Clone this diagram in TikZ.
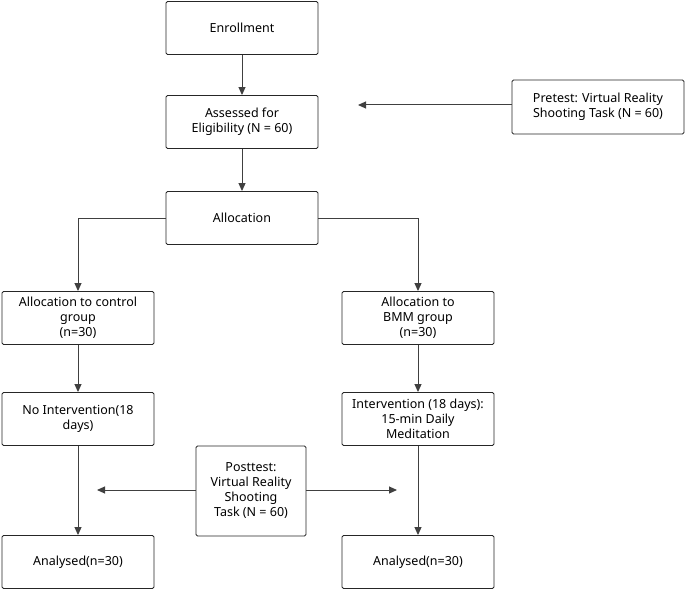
\documentclass[tikz,border=0pt]{standalone}
\usepackage{fontspec}
\setmainfont{Noto Sans}
\usetikzlibrary{arrows.meta}
\begin{document}
\begin{tikzpicture}[x=1pt,y=-1pt,
  box/.style={draw=black!85,line width=0.9pt,rounded corners=1.5pt,minimum width=152pt,minimum height=53pt,align=center,font=\fontsize{12.5}{15}\selectfont,inner sep=2pt},
  arr/.style={draw=black!75,line width=1pt,-{Triangle[length=8pt,width=7pt]}}]
\useasboundingbox (0,0) rectangle (685,591);
\node[box] (enr) at (242,28) {Enrollment};
\node[box] (ass) at (242,122) {Assessed for\\Eligibility (N = 60)};
\node[box,minimum width=172pt,minimum height=54pt] (pre) at (598,107) {Pretest: Virtual Reality\\Shooting Task (N = 60)};
\coordinate (pe) at (358,105);
\node[box] (all) at (242,218) {Allocation};
\node[box] (ctl) at (78,318) {Allocation to control\\group\\(n=30)};
\node[box] (bmm) at (418,318) {Allocation to\\BMM group\\(n=30)};
\node[box] (noi) at (78,419) {No Intervention(18\\days)};
\node[box] (int) at (418,419) {Intervention (18 days):\\15-min Daily\\Meditation};
\node[box,minimum width=110pt,minimum height=90pt] (post) at (251,491) {Posttest:\\Virtual Reality\\Shooting\\Task (N = 60)};
\node[box] (an1) at (78,562) {Analysed(n=30)};
\node[box] (an2) at (418,562) {Analysed(n=30)};
\coordinate (pl) at (97,490);
\coordinate (pr) at (397,490);
\draw[arr] (enr) -- (ass);
\draw[arr] (ass) -- (all);
\draw[arr] (pre.west |- pe) -- (pe);
\draw[arr] (all.west) -| (ctl.north);
\draw[arr] (all.east) -| (bmm.north);
\draw[arr] (ctl) -- (noi);
\draw[arr] (bmm) -- (int);
\draw[arr] (noi) -- (an1);
\draw[arr] (int) -- (an2);
\draw[arr] (post.west |- pl) -- (pl);
\draw[arr] (post.east |- pr) -- (pr);
\end{tikzpicture}
\end{document}
